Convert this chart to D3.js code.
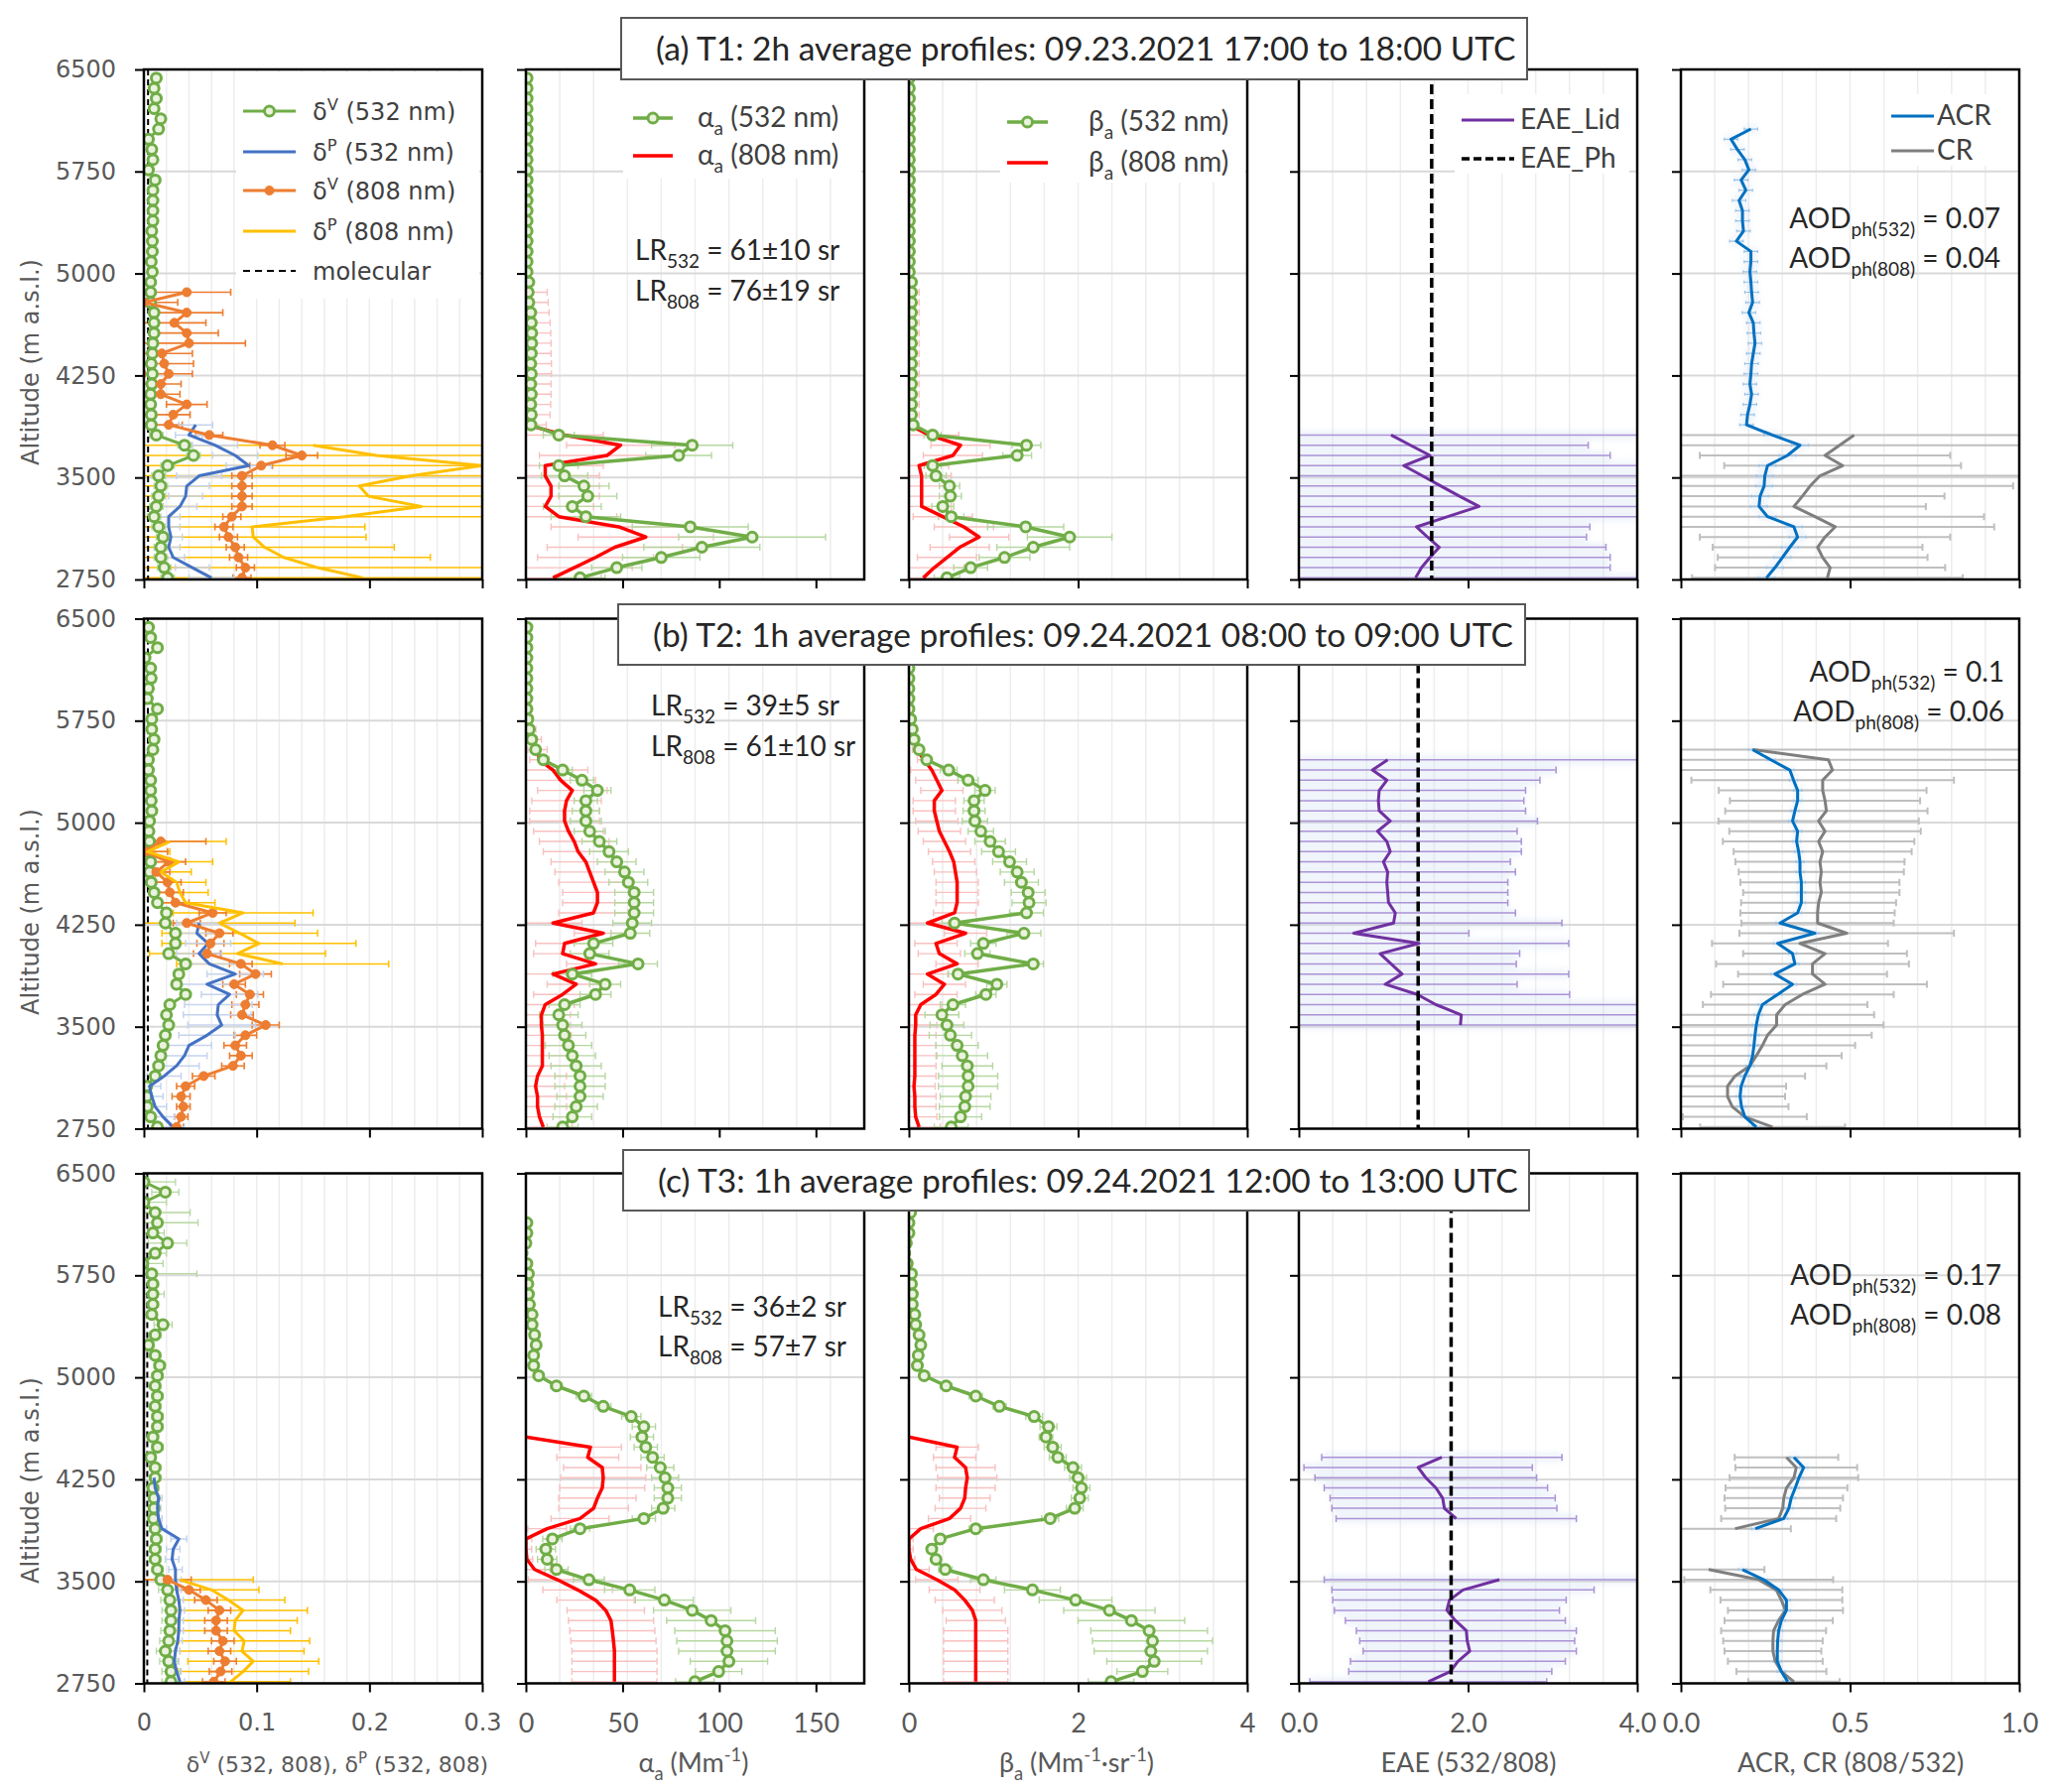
<!DOCTYPE html>
<html>
<head>
<meta charset="utf-8">
<title>Lidar profiles T1-T3</title>
<script src="https://cdn.jsdelivr.net/npm/d3@7/dist/d3.min.js"></script>
<style>
  html, body { margin: 0; padding: 0; background: #ffffff; }
  svg { display: block; }
  text { white-space: pre; }
</style>
</head>
<body>
<div id="plot"></div>
<script>
const _ = null;

// altitude bins (m a.s.l.), top to bottom
const alt = [
  6437, 6362, 6287, 6212, 6137, 6062, 5987, 5912, 5837, 5762,
  5687, 5612, 5537, 5462, 5387, 5312, 5237, 5162, 5087, 5012,
  4937, 4862, 4787, 4712, 4637, 4562, 4487, 4412, 4337, 4262,
  4187, 4112, 4037, 3962, 3887, 3812, 3737, 3662, 3587, 3512,
  3437, 3362, 3287, 3212, 3137, 3062, 2987, 2912, 2837, 2762];

const altTicks = [2750, 3500, 4250, 5000, 5750, 6500];

// ---------- (a) T1 ----------
const a_dv532 = [
  .011, .009, .011, .009, .015, .013, .004, .007, .008, .004,
  .010, .008, .008, .008, .008, .007, .0075, .0075, .0065, .0075,
  .006, .006, .006, .009, .009, .009, .008, .0075, .0065, .0075,
  .007, .006, .006, .0065, .0065, .011, .036, .044, .021, .013,
  .015, .013, .011, .009, .013, .017, .015, .015, .018, .021];
const a_dv532_err = [
  _, _, _, _, _, _, _, _, _, _,
  _, _, _, _, _, _, _, _, _, _,
  _, _, _, _, _, _, _, _, _, _,
  _, _, _, _, _, .006, .006, .006, .006, .006,
  .006, .006, .006, .006, .006, .006, .006, .006, .006, .006];
const a_dv808 = [
  _, _, _, _, _, _, _, _, _, _,
  _, _, _, _, _, _, _, _, _, _,
  _, .038, .000, .038, .027, .038, .040, .016, .018, .022,
  .015, .015, .038, .026, .022, .058, .114, .140, .104, .087,
  .087, .087, .087, .078, .071, .075, .081, .084, .090, .087];
const a_dv808_err = [
  _, _, _, _, _, _, _, _, _, _,
  _, _, _, _, _, _, _, _, _, _,
  _, .039, .030, .032, .028, .028, .050, .027, .026, .021,
  .018, .017, .018, .015, .012, .012, .011, .014, .010, .009,
  .009, .009, .009, .008, .008, .008, .008, .008, .008, .008];
const a_dp532 = [
  _, _, _, _, _, _, _, _, _, _,
  _, _, _, _, _, _, _, _, _, _,
  _, _, _, _, _, _, _, _, _, _,
  _, _, _, _, .046, .040, .063, .081, .093, .049,
  .038, .037, .032, .022, .022, .024, .022, .026, .043, .060];
const a_dp532_err = [
  _, _, _, _, _, _, _, _, _, _,
  _, _, _, _, _, _, _, _, _, _,
  _, _, _, _, _, _, _, _, _, _,
  _, _, _, _, .015, .012, .020, .020, .020, .020,
  .020, .015, .015, .010, .010, .010, .010, .010, .015, .020];
const a_dp808 = [
  _, _, _, _, _, _, _, _, _, _,
  _, _, _, _, _, _, _, _, _, _,
  _, _, _, _, _, _, _, _, _, _,
  _, _, _, _, _, _, .150, .206, .300, .237,
  .191, .199, .246, .178, .096, .097, .107, .124, .154, .194];
const a_dp808_err = [
  _, _, _, _, _, _, _, _, _, _,
  _, _, _, _, _, _, _, _, _, _,
  _, _, _, _, _, _, _, _, _, _,
  _, _, _, _, _, _, .30, .30, .30, .30,
  .30, .30, .30, .30, .10, .10, .115, .13, .30, .30];
const a_al532 = [
  .6, .6, .6, .6, .6, .6, .6, .6, .6, .6,
  .6, .6, .6, .6, .6, .6, .6, .6, .6, .6,
  1.5, 1.2, 1.5, 2.5, 2.8, 3.0, 3.0, 2.8, 2.5, 2.8,
  2.5, 2.8, 2.5, 2.8, 2.6, 17, 86, 79, 17, 20,
  30, 32, 24, 31, 85, 117, 91, 70, 47, 28];
const a_al532_err = [
  _, _, _, _, _, _, _, _, _, _,
  _, _, _, _, _, _, _, _, _, _,
  _, _, _, _, _, _, _, _, _, _,
  _, _, _, _, _, 8, 21, 17, 10, 12,
  13, 15, 15, 18, 30, 38, 30, 20, 13, 13];
const a_al808 = [
  _, _, _, _, _, _, _, _, _, _,
  _, _, _, _, _, _, _, _, _, _,
  _, 1.0, 1.5, 2.0, 2.5, 2.8, 3.0, 3.0, 3.2, 3.2,
  3.0, 3.0, 2.8, 2.5, 0.5, 20, 49, 42, 10, 10,
  13, 13, 10, 17, 48, 62, 46, 36, 25, 14];
const a_al808_err = [
  _, _, _, _, _, _, _, _, _, _,
  _, _, _, _, _, _, _, _, _, _,
  _, 10, 10, 10, 10, 10, 10, 10, 10, 10,
  10, 10, 10, 10, 10, 20, 28, 35, 30, 28,
  25, 25, 25, 30, 35, 35, 35, 30, 30, 25];
const a_be532 = [
  .005, .005, .005, .005, .005, .005, .005, .005, .005, .005,
  .005, .005, .005, .005, .005, .005, .005, .005, .005, .005,
  .03, .03, .03, .03, .03, .03, .03, .03, .03, .03,
  .03, .03, .03, .03, .05, .28, 1.39, 1.28, .28, .32,
  .48, .49, .40, .50, 1.38, 1.90, 1.47, 1.13, .73, .45];
const a_be532_err = [
  _, _, _, _, _, _, _, _, _, _,
  _, _, _, _, _, _, _, _, _, _,
  _, _, _, _, _, _, _, _, _, _,
  _, _, _, _, _, .10, .17, .17, .10, .12,
  .12, .13, .13, .15, .45, .50, .43, .30, .20, .15];
const a_be808 = [
  _, _, _, _, _, _, _, _, _, _,
  _, _, _, _, _, _, _, _, _, _,
  _, .02, .02, .02, .02, .02, .02, .02, .02, .02,
  .02, .02, .02, .02, .00, .24, .61, .52, .12, .15,
  .15, .15, .15, .40, .65, .83, .60, .45, .30, .17];
const a_be808_err = [
  _, _, _, _, _, _, _, _, _, _,
  _, _, _, _, _, _, _, _, _, _,
  _, .10, .10, .10, .10, .10, .10, .10, .10, .10,
  .10, .10, .10, .10, .10, .35, .35, .35, .35, .35,
  .35, .35, .35, .35, .35, .35, .35, .35, .35, .35];
const a_eae = [
  _, _, _, _, _, _, _, _, _, _,
  _, _, _, _, _, _, _, _, _, _,
  _, _, _, _, _, _, _, _, _, _,
  _, _, _, _, _, 1.09, 1.32, 1.55, 1.24, 1.46,
  1.68, 1.90, 2.13, 1.76, 1.39, 1.52, 1.66, 1.55, 1.45, 1.38];
const a_eae_err = [
  _, _, _, _, _, _, _, _, _, _,
  _, _, _, _, _, _, _, _, _, _,
  _, _, _, _, _, _, _, _, _, _,
  _, _, _, _, _, 3.0, 2.1, 2.13, 3.0, 3.0,
  3.0, 3.0, 3.0, 3.0, 2.05, 1.88, 1.97, 2.13, 2.23, 3.0];
const a_acr = [
  _, _, _, _, _, .207, .148, .167, .189, .201,
  .178, .192, .172, .182, .182, .185, .164, .207, .207, .204,
  .207, .209, .212, .201, .214, .216, .219, .214, .209, .207,
  .204, .209, .204, .197, .194, .270, .352, .315, .256, .248,
  .246, .234, .231, .256, .334, .345, .322, .300, .278, .253];
const a_acr_err = [
  _, _, _, _, _, .02, .02, .02, .02, .02,
  .02, .02, .02, .02, .02, .02, .02, .02, .02, .02,
  .02, .02, .02, .02, .02, .02, .02, .02, .02, .02,
  .02, .02, .02, .02, .02, .025, .025, .025, .025, .025,
  .025, .025, .025, .025, .025, .025, .025, .025, .025, .025];
const a_cr = [
  _, _, _, _, _, _, _, _, _, _,
  _, _, _, _, _, _, _, _, _, _,
  _, _, _, _, _, _, _, _, _, _,
  _, _, _, _, _, .512, .469, .426, .478, .411,
  .382, .359, .334, .396, .456, .426, .404, .419, .441, .433];
const a_cr_err = [
  _, _, _, _, _, _, _, _, _, _,
  _, _, _, _, _, _, _, _, _, _,
  _, _, _, _, _, _, _, _, _, _,
  _, _, _, _, _, .60, .60, .37, .35, .60,
  .60, .42, .39, .50, .47, .37, .31, .31, .34, .40];

// ---------- (b) T2 ----------
const b_dv532 = [
  .004, .006, .012, .001, .006, .0065, .004, .003, .012, .007,
  .007, .009, .008, .004, .004, .006, .006, .0065, .007, .005,
  .0045, .005, .0015, .006, .005, .0065, .009, .012, .020, .019,
  .028, .028, .022, .037, .031, .029, .037, .023, .020, .022,
  .019, .017, .015, .013, .010, .0025, .0025, .003, .006, .012];
const b_dv808 = [
  _, _, _, _, _, _, _, _, _, _,
  _, _, _, _, _, _, _, _, _, _,
  _, .015, .001, .022, .011, .021, .023, .028, .061, .038,
  .067, .059, .056, .086, .099, .080, .094, .090, .087, .108,
  .090, .081, .086, .079, .053, .037, .033, .035, .033, .029];
const b_dv808_err = [
  _, _, _, _, _, _, _, _, _, _,
  _, _, _, _, _, _, _, _, _, _,
  _, .040, .020, .015, .012, .012, .012, .012, .012, .012,
  .012, .012, .012, .010, .014, .010, .012, .012, .010, .012,
  .010, .010, .010, .010, .010, .008, .008, .006, .006, .006];
const b_dp808 = [
  _, _, _, _, _, _, _, _, _, _,
  _, _, _, _, _, _, _, _, _, _,
  _, .023, .003, .031, .015, .029, .032, .037, .088, .067,
  .085, .102, .083, .123, _, _, _, _, _, _,
  _, _, _, _, _, _, _, _, _, _];
const b_dp808_err = [
  _, _, _, _, _, _, _, _, _, _,
  _, _, _, _, _, _, _, _, _, _,
  _, .050, .020, .030, .027, .026, .025, .026, .062, .067,
  .069, .086, .078, .094, _, _, _, _, _, _,
  _, _, _, _, _, _, _, _, _, _];
const b_dp532 = [
  _, _, _, _, _, _, _, _, _, _,
  _, _, _, _, _, _, _, _, _, _,
  _, _, _, _, _, _, _, _, _, .049,
  .047, .057, .049, .058, .081, .056, .076, .066, .065, .069,
  .056, .040, .036, .029, .018, .005, .007, .010, .017, .026];
const b_dp532_err = [
  _, _, _, _, _, _, _, _, _, _,
  _, _, _, _, _, _, _, _, _, _,
  _, _, _, _, _, _, _, _, _, .020,
  .020, .020, .020, .025, .025, .025, .025, .030, .030, .030,
  .025, .020, .020, .020, .015, .010, .010, .010, .010, .010];
const b_al532 = [
  .5, .5, .5, .5, .5, .5, .5, .5, .5, 1,
  1.8, 3, 5, 9, 19, 29, 37, 31, 31, 31,
  33, 38, 43, 47, 51, 53, 56, 56, 56, 55,
  54, 35, 33, 58, 24, 41, 36, 20, 17, 19,
  20, 22, 24, 26, 28, 28, 28, 26, 24, 19];
const b_al532_err = [
  _, _, _, _, _, _, _, _, _, _,
  _, _, _, _, 5, 6, 7, 6, 7, 8,
  8, 9, 10, 10, 10, 10, 10, 10, 10, 10,
  10, 10, 10, 10, 10, 8, 8, 8, 10, 10,
  11, 12, 12, 13, 13, 13, 12, 11, 10, 8];
const b_al808 = [
  .5, .5, .5, .5, .5, .5, .5, .5, .5, .8,
  1.2, 3, 6, 7, 14, 18, 24, 21, 20, 20,
  22, 25, 27, 31, 33, 35, 37, 37, 35, 14,
  40, 20, 19, 36, 14, 26, 19, 10, 8, 8,
  8.5, 8.5, 8.5, 8.5, 6, 5, 6, 6, 7, 9];
const b_al808_err = [
  _, _, _, _, _, _, _, _, _, 3,
  4, 5, 5, 5, 18, 18, 18, 18, 18, 18,
  18, 18, 18, 18, 18, 18, 18, 18, 18, 15,
  15, 15, 15, 15, 15, 15, 15, 15, 15, 15,
  15, 15, 15, 15, 15, 15, 15, 15, 15, 15];
const b_be532 = [
  0, 0, 0, 0, 0, 0, 0, 0, 0, .02,
  .04, .06, .12, .21, .47, .70, .90, .77, .77, .78,
  .85, .96, 1.06, 1.19, 1.28, 1.33, 1.41, 1.42, 1.39, .54,
  1.36, .88, .81, 1.47, .58, 1.04, .91, .52, .39, .45,
  .49, .57, .63, .69, .70, .70, .67, .66, .61, .50];
const b_be532_err = [
  _, _, _, _, _, _, _, _, _, _,
  _, _, _, _, .10, .12, .12, .12, .13, .15,
  .15, .18, .20, .20, .20, .20, .20, .20, .20, .15,
  .20, .15, .15, .12, .12, .12, .12, .15, .20, .20,
  .25, .25, .30, .30, .35, .35, .30, .30, .25, .20];
const b_be808 = [
  .02, .02, .02, .02, .02, .02, .02, .02, .02, .02,
  .03, .06, .09, .18, .27, .33, .39, .30, .30, .33,
  .36, .42, .48, .53, .55, .57, .57, .57, .54, .22,
  .67, .32, .36, .57, .22, .42, .32, .14, .08, .08,
  .07, .07, .07, .07, .07, .06, .07, .07, .08, .12];
const b_be808_err = [
  _, _, _, _, _, _, _, _, _, _,
  .03, .05, .05, .08, .25, .25, .25, .25, .25, .25,
  .25, .25, .25, .25, .25, .25, .25, .25, .25, .25,
  .25, .25, .25, .25, .25, .25, .25, .25, .25, .25,
  .25, .25, .25, .25, .25, .25, .25, .25, .25, .25];
const b_eae = [
  _, _, _, _, _, _, _, _, _, _,
  _, _, _, 1.05, .87, 1.04, .95, .94, .95, 1.08,
  .93, 1.04, 1.08, 1.00, 1.05, 1.04, 1.05, 1.06, 1.14, 1.12,
  .65, 1.42, .96, 1.09, 1.22, 1.02, 1.40, 1.62, 1.92, 1.91,
  _, _, _, _, _, _, _, _, _, _];
const b_eae_err = [
  _, _, _, _, _, _, _, _, _, _,
  _, _, _, 3.0, 2.17, 1.81, 1.73, 1.72, 1.73, 1.74,
  1.65, 1.59, 1.55, 1.50, 1.51, 1.43, 1.42, 1.41, 1.42, 1.99,
  1.36, 1.77, 1.65, 1.48, 1.97, 1.56, 1.80, 3.0, 3.0, 3.0,
  _, _, _, _, _, _, _, _, _, _];
const b_acr = [
  _, _, _, _, _, _, _, _, _, _,
  _, _, .212, .266, .322, .333, .345, .345, .337, .330,
  .345, .342, .348, .352, .352, .356, .356, .356, .345, .293,
  .396, .286, .330, .337, .278, .330, .286, .241, .229, .223,
  .219, .216, .212, .204, .189, .178, .175, .179, .189, .223];
const b_acr_err = [
  _, _, _, _, _, _, _, _, _, _,
  _, _, .012, .012, .012, .012, .012, .012, .012, .012,
  .012, .012, .012, .012, .012, .012, .012, .012, .012, .012,
  .012, .012, .012, .012, .012, .012, .012, .012, .012, .012,
  .012, .012, .012, .012, .012, .012, .012, .012, .012, .012];
const b_cr = [
  _, _, _, _, _, _, _, _, _, _,
  _, _, .212, .436, .448, .419, .419, .426, .430, .407,
  .426, .407, .419, .411, .415, .411, .415, .407, .404, .404,
  .490, .352, .426, .389, .389, .426, .359, .308, .283, .283,
  .256, .241, .223, .204, .160, .138, .138, .152, .189, .271];
const b_cr_err = [
  _, _, _, _, _, _, _, _, _, _,
  _, _, .80, .80, .80, .388, .307, .281, .299, .296,
  .283, .283, .263, .250, .244, .235, .231, .229, .228, .225,
  .317, .260, .242, .285, .220, .301, .270, .243, .288, .316,
  .308, .274, .252, .226, .207, .173, .170, .166, .183, .214];

// ---------- (c) T3 ----------
const c_dv532 = [
  .000, .019, .000, .010, .012, .008, .021, .010, -.001, .007,
  .008, .008, .008, .007, .017, .010, .004, .010, .014, .012,
  .010, .012, .010, .012, .012, .008, .012, .006, .010, .010,
  .008, .009, .009, .0085, .010, .011, .010, .010, .012, .015,
  .021, .023, .024, .024, .023, .022, .019, .022, .024, .024];
const c_dv532_err = [
  .028, .012, .020, .031, .036, .010, .017, .010, .018, .040,
  .005, .010, .005, .005, .008, .005, .005, .005, .005, .005,
  .005, .005, .005, .005, .005, .005, .005, .005, .005, .005,
  .005, .005, .005, .005, .005, .005, .005, .005, .005, .005,
  .008, .008, .008, .008, .008, .008, .008, .008, .008, .008];
const c_dp532 = [
  _, _, _, _, _, _, _, _, _, _,
  _, _, _, _, _, _, _, _, _, _,
  _, _, _, _, _, _, _, _, _, .009,
  .010, .013, .012, .013, .016, .031, .026, .025, .028, .028,
  .029, .031, .032, .031, .031, .030, .028, .027, .029, .032];
const c_dp532_err = [
  _, _, _, _, _, _, _, _, _, _,
  _, _, _, _, _, _, _, _, _, _,
  _, _, _, _, _, _, _, _, _, .003,
  .003, .003, .003, .003, .004, .007, .006, .006, .006, .005,
  .004, .004, .004, .004, .004, .004, .004, .004, .004, .004];
const c_dv808 = [
  _, _, _, _, _, _, _, _, _, _,
  _, _, _, _, _, _, _, _, _, _,
  _, _, _, _, _, _, _, _, _, _,
  _, _, _, _, _, _, _, _, _, .021,
  .040, .055, .067, .064, .064, .070, .067, .072, .068, .062];
const c_dv808_err = [
  _, _, _, _, _, _, _, _, _, _,
  _, _, _, _, _, _, _, _, _, _,
  _, _, _, _, _, _, _, _, _, _,
  _, _, _, _, _, _, _, _, _, .021,
  .010, .010, .010, .010, .010, .010, .010, .010, .010, .010];
const c_dp808 = [
  _, _, _, _, _, _, _, _, _, _,
  _, _, _, _, _, _, _, _, _, _,
  _, _, _, _, _, _, _, _, _, _,
  _, _, _, _, _, _, _, _, _, .032,
  .060, .075, .088, .081, .080, .089, .087, .097, .088, .077];
const c_dp808_err = [
  _, _, _, _, _, _, _, _, _, _,
  _, _, _, _, _, _, _, _, _, _,
  _, _, _, _, _, _, _, _, _, _,
  _, _, _, _, _, _, _, _, _, .065,
  .042, .050, .057, .055, .050, .058, .055, .058, .058, .053];
const c_al532 = [
  _, _, _, _, .5, .5, 0, -2, .5, 1.3,
  1.0, 1.3, 1.8, 3.2, 3.2, 4.5, 5.3, 4.0, 4.0, 6.6,
  15.8, 30, 40, 54.5, 61, 60, 62, 65.5, 69.5, 72,
  73.4, 73.4, 71, 61, 28, 13.7, 10.3, 11, 15.8, 32.6,
  53.7, 71.6, 86, 95.8, 103, 104, 104, 105, 99.7, 87.4];
const c_al532_err = [
  _, _, _, _, 1, 1, 1, 1, 1, 1,
  1, 1, 1, 1, 1, 1, 1, 1, 1, 1,
  3, 4, 4, 5, 6, 6, 6, 6, 7, 7,
  7, 7, 6, 6, 5, 5, 5, 5, 6, 8,
  13, 15, 20, 23, 26, 26, 25, 20, 12, 10];
const c_al808 = [
  _, _, _, _, _, _, _, _, _, _,
  _, _, _, _, _, _, _, _, _, _,
  _, _, _, _, _, 0, 33.4, 32, 39.5, 40,
  39.5, 37, 35, 28, 11, 0, 0, .5, 4.5, 16.3,
  26.8, 36, 41.3, 44, 44.7, 45.3, 45.8, 45.8, 45.8, 45.8];
const c_al808_err = [
  _, _, _, _, _, _, _, _, _, _,
  _, _, _, _, _, _, _, _, _, _,
  _, _, _, _, _, 0, 16, 16, 20, 22,
  22, 20, 18, 15, 10, 3, 3, 3, 8, 15,
  18, 20, 20, 22, 22, 22, 22, 22, 22, 22];
const c_be532 = [
  .02, .02, .02, .02, 0, 0, -.03, -.05, -.02, .03,
  .03, .04, .04, .07, .08, .12, .14, .11, .10, .18,
  .44, .79, 1.07, 1.48, 1.65, 1.62, 1.70, 1.76, 1.94, 2.00,
  2.04, 2.02, 1.96, 1.67, .79, .37, .27, .32, .43, .88,
  1.46, 1.97, 2.37, 2.63, 2.84, 2.88, 2.86, 2.90, 2.76, 2.39];
const c_be532_err = [
  _, _, _, _, _, _, _, _, _, _,
  _, _, _, _, _, _, _, _, _, _,
  .07, .08, .08, .10, .10, .08, .10, .10, .10, .10,
  .10, .10, .10, .10, .08, .05, .05, .05, .08, .15,
  .33, .43, .54, .63, .69, .71, .67, .56, .30, .27];
const c_be808 = [
  _, _, _, _, _, _, _, _, _, _,
  _, _, _, _, _, _, _, _, _, _,
  _, _, _, _, _, 0, .57, .54, .67, .69,
  .67, .66, .61, .48, .14, 0, 0, .02, .09, .33,
  .54, .66, .75, .79, .79, .79, .79, .79, .79, .79];
const c_be808_err = [
  _, _, _, _, _, _, _, _, _, _,
  _, _, _, _, _, _, _, _, _, _,
  _, _, _, _, _, 0, .25, .25, .35, .35,
  .35, .30, .30, .25, .15, .05, .05, .05, .15, .25,
  .30, .35, .35, .35, .38, .38, .38, .38, .38, .38];
const c_eae = [
  _, _, _, _, _, _, _, _, _, _,
  _, _, _, _, _, _, _, _, _, _,
  _, _, _, _, _, _, _, 1.69, 1.41, 1.50,
  1.62, 1.70, 1.72, 1.86, _, _, _, _, _, 2.37,
  1.94, 1.78, 1.75, 1.85, 1.98, 1.99, 2.02, 1.88, 1.79, 1.53];
const c_eae_err = [
  _, _, _, _, _, _, _, _, _, _,
  _, _, _, _, _, _, _, _, _, _,
  _, _, _, _, _, _, _, 1.42, 1.35, 1.31,
  1.32, 1.33, 1.33, 1.42, _, _, _, _, _, 2.07,
  1.55, 1.38, 1.33, 1.30, 1.30, 1.27, 1.26, 1.27, 1.20, 1.40];
const c_acr = [
  _, _, _, _, _, _, _, _, _, _,
  _, _, _, _, _, _, _, _, _, _,
  _, _, _, _, _, _, _, .334, .363, .349,
  .338, .326, .319, .304, .220, _, _, _, .182, .245,
  .289, .312, .312, .297, .289, .286, .285, .285, .297, .316];
const c_acr_err = [
  _, _, _, _, _, _, _, _, _, _,
  _, _, _, _, _, _, _, _, _, _,
  _, _, _, _, _, _, _, .012, .012, .012,
  .012, .012, .012, .012, .012, _, _, _, .012, .012,
  .012, .012, .012, .012, .012, .012, .012, .012, .012, .012];
const c_cr = [
  _, _, _, _, _, _, _, _, _, _,
  _, _, _, _, _, _, _, _, _, _,
  _, _, _, _, _, _, _, .312, .341, .334,
  .312, .304, .301, .289, .160, _, _, _, .082, .230,
  .282, .297, .309, .289, .274, .272, .272, .279, .297, .334];
const c_cr_err = [
  _, _, _, _, _, _, _, _, _, _,
  _, _, _, _, _, _, _, _, _, _,
  _, _, _, _, _, _, _, .153, .180, .190,
  .180, .175, .170, .170, .165, _, _, _, .165, .220,
  .195, .180, .170, .160, .155, .147, .143, .140, .133, .135];

// single values per period
const molecular = [0.0037, 0.0035, 0.003];
const eaePh = [1.57, 1.41, 1.80];
const titles = [
  "(a) T1: 2h average profiles: 09.23.2021 17:00 to 18:00 UTC",
  "(b) T2: 1h average profiles: 09.24.2021 08:00 to 09:00 UTC",
  "(c) T3: 1h average profiles: 09.24.2021 12:00 to 13:00 UTC"];
const lr532 = ["61±10", "39±5", "36±2"];
const lr808 = ["76±19", "61±10", "57±7"];
const aod532 = ["0.07", "0.1", "0.17"];
const aod808 = ["0.04", "0.06", "0.08"];

const rows = [
  {dv532: a_dv532, dv532e: a_dv532_err, dp532: a_dp532, dp532e: a_dp532_err,
   dv808: a_dv808, dv808e: a_dv808_err, dp808: a_dp808, dp808e: a_dp808_err,
   al532: a_al532, al532e: a_al532_err, al808: a_al808, al808e: a_al808_err,
   be532: a_be532, be532e: a_be532_err, be808: a_be808, be808e: a_be808_err,
   eae: a_eae, eaee: a_eae_err, acr: a_acr, acre: a_acr_err, cr: a_cr, cre: a_cr_err},
  {dv532: b_dv532, dv532e: null, dp532: b_dp532, dp532e: b_dp532_err,
   dv808: b_dv808, dv808e: b_dv808_err, dp808: b_dp808, dp808e: b_dp808_err,
   al532: b_al532, al532e: b_al532_err, al808: b_al808, al808e: b_al808_err,
   be532: b_be532, be532e: b_be532_err, be808: b_be808, be808e: b_be808_err,
   eae: b_eae, eaee: b_eae_err, acr: b_acr, acre: b_acr_err, cr: b_cr, cre: b_cr_err},
  {dv532: c_dv532, dv532e: c_dv532_err, dp532: c_dp532, dp532e: c_dp532_err,
   dv808: c_dv808, dv808e: c_dv808_err, dp808: c_dp808, dp808e: c_dp808_err,
   al532: c_al532, al532e: c_al532_err, al808: c_al808, al808e: c_al808_err,
   be532: c_be532, be532e: c_be532_err, be808: c_be808, be808e: c_be808_err,
   eae: c_eae, eaee: c_eae_err, acr: c_acr, acre: c_acr_err, cr: c_cr, cre: c_cr_err}
];

// ---------- layout ----------
const W = 2067, H = 1806;
const rowTop = [70, 623.5, 1182.5];
const plotH = 514;
const colLeft = [145, 530, 916, 1309, 1694];
const plotW = 341;
const FV = "'DejaVu Sans', Verdana, sans-serif";
const FC = "Lato, 'Open Sans', sans-serif";

const cols = [
  {domain: [0, 0.3], ticks: [0, 0.1, 0.2, 0.3], fmt: d => d === 0 ? "0" : d3.format(".1f")(d), minor: 0.02},
  {domain: [0, 175], ticks: [0, 50, 100, 150], fmt: d3.format("d"), minor: 17.5},
  {domain: [0, 4], ticks: [0, 2, 4], fmt: d3.format("d"), minor: 0.4},
  {domain: [0, 4], ticks: [0, 2, 4], fmt: d3.format(".1f"), minor: 0.4},
  {domain: [0, 1], ticks: [0, 0.5, 1], fmt: d3.format(".1f"), minor: 0.1}
];

const GREEN = "#70ad47", RED = "#ff0000", BLUE = "#4472c4", ORANGE = "#ed7d31",
      YELLOW = "#ffc000", PURPLE = "#7030a0", ACRBLUE = "#0070c0", GREY = "#7f7f7f";

const svg = d3.select("#plot").append("svg").attr("width", W).attr("height", H);
svg.append("rect").attr("width", W).attr("height", H).attr("fill", "#fff");
const defs = svg.append("defs");
defs.append("filter").attr("id", "glow").attr("filterUnits", "userSpaceOnUse")
  .attr("x", -100).attr("y", -100).attr("width", 600).attr("height", 800)
  .append("feGaussianBlur").attr("stdDeviation", 3);

// ---------- helpers ----------
function frame(r, c) {
  const cfg = cols[c];
  const g = svg.append("g").attr("transform", `translate(${colLeft[c]},${rowTop[r]})`);
  const x = d3.scaleLinear().domain(cfg.domain).range([0, plotW]);
  const y = d3.scaleLinear().domain([2750, 6500]).range([plotH, 0]);
  const id = `clip${r}${c}`;
  defs.append("clipPath").attr("id", id).append("rect").attr("width", plotW).attr("height", plotH);

  g.append("g").selectAll("line")
    .data(d3.range(cfg.minor, cfg.domain[1] - 1e-9, cfg.minor))
    .join("line")
    .attr("x1", d => x(d)).attr("x2", d => x(d)).attr("y1", 0).attr("y2", plotH)
    .attr("stroke", "#ededed").attr("stroke-width", 1.5);
  g.append("g").selectAll("line")
    .data(altTicks.slice(1, -1))
    .join("line")
    .attr("x1", 0).attr("x2", plotW).attr("y1", d => y(d)).attr("y2", d => y(d))
    .attr("stroke", "#d9d9d9").attr("stroke-width", 2);

  const plot = g.append("g").attr("clip-path", `url(#${id})`);
  return {g, x, y, plot, cfg, r, c};
}

function axes(p) {
  const yAx = p.g.append("g")
    .call(d3.axisLeft(p.y).tickValues(altTicks).tickSize(9).tickPadding(19)
      .tickFormat(p.c === 0 ? d3.format("d") : ""));
  const xAx = p.g.append("g").attr("transform", `translate(0,${plotH})`)
    .call(d3.axisBottom(p.x).tickValues(p.cfg.ticks).tickSize(9).tickPadding(21)
      .tickFormat(p.r === 2 ? p.cfg.fmt : ""));
  [yAx, xAx].forEach(a => {
    a.select(".domain").remove();
    a.selectAll("line").attr("stroke", "#000").attr("stroke-width", 2);
    a.selectAll("text").attr("fill", "#595959")
      .style("font-family", p.c === 0 ? FV : FC)
      .style("font-size", p.c === 0 ? "24px" : "27px");
  });
  p.g.append("rect").attr("width", plotW).attr("height", plotH)
    .attr("fill", "none").attr("stroke", "#000").attr("stroke-width", 2.5);
}

function asPts(vals, errs) {
  return vals.map((v, i) => ({v: v, a: alt[i], e: errs ? errs[i] : null}));
}

function drawLine(p, vals, color, w) {
  const line = d3.line().defined(d => d.v !== null).x(d => p.x(d.v)).y(d => p.y(d.a));
  p.plot.append("path").datum(asPts(vals))
    .attr("d", line).attr("fill", "none").attr("stroke", color)
    .attr("stroke-width", w).attr("stroke-linejoin", "round");
}

function drawErr(p, vals, errs, color, w, glow, cap) {
  if (!errs) return;
  const data = asPts(vals, errs).filter(d => d.v !== null && d.e !== null && d.e > 0);
  const cp = cap === undefined ? 3.5 : cap;
  if (glow) {
    p.plot.append("g").attr("filter", "url(#glow)").attr("opacity", 0.35)
      .selectAll("path").data(data).join("path")
      .attr("d", d => `M${p.x(d.v - d.e)},${p.y(d.a)}H${p.x(d.v + d.e)}`)
      .attr("stroke", glow).attr("stroke-width", 9);
  }
  p.plot.append("g").selectAll("path").data(data).join("path")
    .attr("d", d => {
      const x1 = p.x(d.v - d.e), x2 = p.x(d.v + d.e), y = p.y(d.a);
      return `M${x1},${y}H${x2}M${x1},${y - cp}V${y + cp}M${x2},${y - cp}V${y + cp}`;
    })
    .attr("fill", "none").attr("stroke", color).attr("stroke-width", w);
}

function drawDots(p, vals, r, fill, stroke, sw) {
  p.plot.append("g").selectAll("circle")
    .data(asPts(vals).filter(d => d.v !== null)).join("circle")
    .attr("cx", d => p.x(d.v)).attr("cy", d => p.y(d.a)).attr("r", r)
    .attr("fill", fill).attr("stroke", stroke).attr("stroke-width", sw);
}

function vline(p, v, color, w, dash) {
  p.plot.append("line")
    .attr("x1", p.x(v)).attr("x2", p.x(v)).attr("y1", 0).attr("y2", plotH)
    .attr("stroke", color).attr("stroke-width", w).attr("stroke-dasharray", dash);
}

function rich(parent, x, y, parts, size, font, fill, anchor) {
  const t = parent.append("text").attr("x", x).attr("y", y)
    .attr("font-family", font).attr("font-size", size).attr("fill", fill)
    .attr("text-anchor", anchor || "start");
  let cur = 0;
  parts.forEach(pt => {
    const off = pt.sub ? 0.28 * size : pt.sup ? -0.4 * size : 0;
    t.append("tspan").attr("dy", off - cur)
      .attr("font-size", pt.sub || pt.sup ? size * 0.68 : size).text(pt.t);
    cur = off;
  });
  return t;
}

// ---------- panels ----------
rows.forEach((d, r) => {
  // depolarisation
  const p0 = frame(r, 0);
  drawErr(p0, d.dp808, d.dp808e, YELLOW, 1.5);
  drawErr(p0, d.dv808, d.dv808e, ORANGE, 1.6);
  drawErr(p0, d.dp532, d.dp532e, "#c5d3ee", 1.5);
  drawErr(p0, d.dv532, d.dv532e, "#b6d7a0", 1.3);
  vline(p0, molecular[r], "#000", 2, "6,4");
  drawLine(p0, d.dv532, GREEN, 3);
  drawDots(p0, d.dv532, 5, "#eaf3de", GREEN, 3);
  drawLine(p0, d.dp532, BLUE, 3);
  drawLine(p0, d.dv808, ORANGE, 3);
  drawDots(p0, d.dv808, 4.5, ORANGE, ORANGE, 1);
  drawLine(p0, d.dp808, YELLOW, 3);
  axes(p0);

  // extinction
  const p1 = frame(r, 1);
  drawErr(p1, d.al808, d.al808e, "#f9c0c0", 1.4);
  drawErr(p1, d.al532, d.al532e, "#b6d7a0", 1.4);
  drawLine(p1, d.al808, RED, 3.5);
  drawLine(p1, d.al532, GREEN, 3.5);
  drawDots(p1, d.al532, 5, "#eaf3de", GREEN, 3);
  axes(p1);

  // backscatter
  const p2 = frame(r, 2);
  drawErr(p2, d.be808, d.be808e, "#f9c0c0", 1.4);
  drawErr(p2, d.be532, d.be532e, "#b6d7a0", 1.4);
  drawLine(p2, d.be808, RED, 3.5);
  drawLine(p2, d.be532, GREEN, 3.5);
  drawDots(p2, d.be532, 5, "#eaf3de", GREEN, 3);
  axes(p2);

  // EAE
  const p3 = frame(r, 3);
  drawErr(p3, d.eae, d.eaee, "#ab93d6", 1.5, "#cddcf2");
  drawLine(p3, d.eae, PURPLE, 3);
  vline(p3, eaePh[r], "#000", 3.5, "10,5");
  axes(p3);

  // ACR / CR
  const p4 = frame(r, 4);
  drawErr(p4, d.cr, d.cre, "#bfbfbf", 2);
  drawErr(p4, d.acr, d.acre, "#9dc3e6", 1.2, "#cddcf2", 1.5);
  drawLine(p4, d.cr, GREY, 3);
  drawLine(p4, d.acr, ACRBLUE, 3);
  axes(p4);

  // y axis title
  svg.append("text")
    .attr("transform", `translate(39,${[365, 919, 1492][r]}) rotate(-90)`)
    .attr("text-anchor", "middle").attr("font-family", FV).attr("font-size", 24)
    .attr("fill", "#595959").text("Altitude (m a.s.l.)");

  // lidar ratio text
  const lrx = [640, 656, 663][r], lry = [[262, 303], [721, 762], [1327, 1367]][r];
  rich(svg, lrx, lry[0], [{t: "LR"}, {t: "532", sub: true}, {t: " = " + lr532[r] + " sr"}], 28, FC, "#262626");
  rich(svg, lrx, lry[1], [{t: "LR"}, {t: "808", sub: true}, {t: " = " + lr808[r] + " sr"}], 28, FC, "#262626");

  // AOD text
  const aox = [2016, 2020, 2017][r], aoy = [[230, 270], [687, 727], [1295, 1335]][r];
  rich(svg, aox, aoy[0], [{t: "AOD"}, {t: "ph(532)", sub: true}, {t: " = " + aod532[r]}], 28, FC, "#262626", "end");
  rich(svg, aox, aoy[1], [{t: "AOD"}, {t: "ph(808)", sub: true}, {t: " = " + aod808[r]}], 28, FC, "#262626", "end");
});

// ---------- legends (top row) ----------
function legendBg(x, y, w, h) {
  svg.append("rect").attr("x", x).attr("y", y).attr("width", w).attr("height", h).attr("fill", "#fff");
}
function legLine(x1, x2, y, color, w, dash) {
  svg.append("line").attr("x1", x1).attr("x2", x2).attr("y1", y).attr("y2", y)
    .attr("stroke", color).attr("stroke-width", w).attr("stroke-dasharray", dash || null);
}
function legDot(x, y, r, fill, stroke, sw) {
  svg.append("circle").attr("cx", x).attr("cy", y).attr("r", r)
    .attr("fill", fill).attr("stroke", stroke).attr("stroke-width", sw);
}

legendBg(238, 73, 245, 228);
const depLeg = [
  {y: 112, color: GREEN, dot: "open", parts: [{t: "δ"}, {t: "V", sup: true}, {t: " (532 nm)"}]},
  {y: 153, color: BLUE, parts: [{t: "δ"}, {t: "P", sup: true}, {t: " (532 nm)"}]},
  {y: 192, color: ORANGE, dot: "fill", parts: [{t: "δ"}, {t: "V", sup: true}, {t: " (808 nm)"}]},
  {y: 233, color: YELLOW, parts: [{t: "δ"}, {t: "P", sup: true}, {t: " (808 nm)"}]},
  {y: 273, color: "#000", dash: "7,5", parts: [{t: "molecular"}]}
];
depLeg.forEach(it => {
  legLine(245, 298, it.y, it.color, it.dash ? 2 : 3, it.dash);
  if (it.dot === "open") legDot(271.5, it.y, 5, "#eaf3de", GREEN, 3);
  if (it.dot === "fill") legDot(271.5, it.y, 4.5, ORANGE, ORANGE, 1);
  rich(svg, 315, it.y + 8.5, it.parts, 24, FV, "#404040");
});

legendBg(628, 73, 240, 107);
legLine(638, 678, 119, GREEN, 3.5); legDot(658, 119, 5, "#eaf3de", GREEN, 3);
rich(svg, 703, 128, [{t: "α"}, {t: "a", sub: true}, {t: " (532 nm)"}], 28, FC, "#404040");
legLine(638, 678, 157, RED, 3.5);
rich(svg, 703, 166, [{t: "α"}, {t: "a", sub: true}, {t: " (808 nm)"}], 28, FC, "#404040");

legendBg(1008, 73, 247, 111);
legLine(1015, 1056, 123, GREEN, 3.5); legDot(1035.5, 123, 5, "#eaf3de", GREEN, 3);
rich(svg, 1097, 132, [{t: "β"}, {t: "a", sub: true}, {t: " (532 nm)"}], 28, FC, "#404040");
legLine(1015, 1056, 164, RED, 3.5);
rich(svg, 1097, 173, [{t: "β"}, {t: "a", sub: true}, {t: " (808 nm)"}], 28, FC, "#404040");

legendBg(1466, 95, 176, 80);
legLine(1473, 1526, 121, PURPLE, 3);
rich(svg, 1532, 130, [{t: "EAE_Lid"}], 28, FC, "#404040");
legLine(1473, 1526, 160, "#000", 3.5, "8,4");
rich(svg, 1532, 169, [{t: "EAE_Ph"}], 28, FC, "#404040");

legendBg(1900, 95, 110, 72);
legLine(1906, 1949, 117, ACRBLUE, 3);
rich(svg, 1952, 126, [{t: "ACR"}], 28, FC, "#404040");
legLine(1906, 1949, 152, GREY, 3);
rich(svg, 1952, 161, [{t: "CR"}], 28, FC, "#404040");

// ---------- x axis titles (bottom row) ----------
rich(svg, 340, 1786, [{t: "δ"}, {t: "V", sup: true}, {t: " (532, 808), δ"}, {t: "P", sup: true}, {t: " (532, 808)"}], 22, FV, "#595959", "middle");
rich(svg, 699, 1786, [{t: "α"}, {t: "a", sub: true}, {t: " (Mm"}, {t: "-1", sup: true}, {t: ")"}], 27, FC, "#595959", "middle");
rich(svg, 1085, 1786, [{t: "β"}, {t: "a", sub: true}, {t: " (Mm"}, {t: "-1", sup: true}, {t: "·sr"}, {t: "-1", sup: true}, {t: ")"}], 27, FC, "#595959", "middle");
rich(svg, 1480, 1786, [{t: "EAE (532/808)"}], 27, FC, "#595959", "middle");
rich(svg, 1865, 1786, [{t: "ACR, CR (808/532)"}], 27, FC, "#595959", "middle");

// ---------- title boxes ----------
const boxes = [{x: 626, y: 18, w: 913, h: 62}, {x: 623, y: 609, w: 914, h: 61}, {x: 628, y: 1159, w: 913, h: 61}];
boxes.forEach((b, i) => {
  svg.append("rect").attr("x", b.x).attr("y", b.y).attr("width", b.w).attr("height", b.h)
    .attr("fill", "#fff").attr("stroke", "#595959").attr("stroke-width", 2);
  const t = svg.append("text").attr("x", b.x + 35).attr("y", b.y + 42.5)
    .attr("font-family", FC).attr("font-size", 32).attr("fill", "#262626").text(titles[i]);
  const len = t.node().getComputedTextLength();
  if (len > 0) t.attr("font-size", 32 * 867 / len);
});
</script>
</body>
</html>
